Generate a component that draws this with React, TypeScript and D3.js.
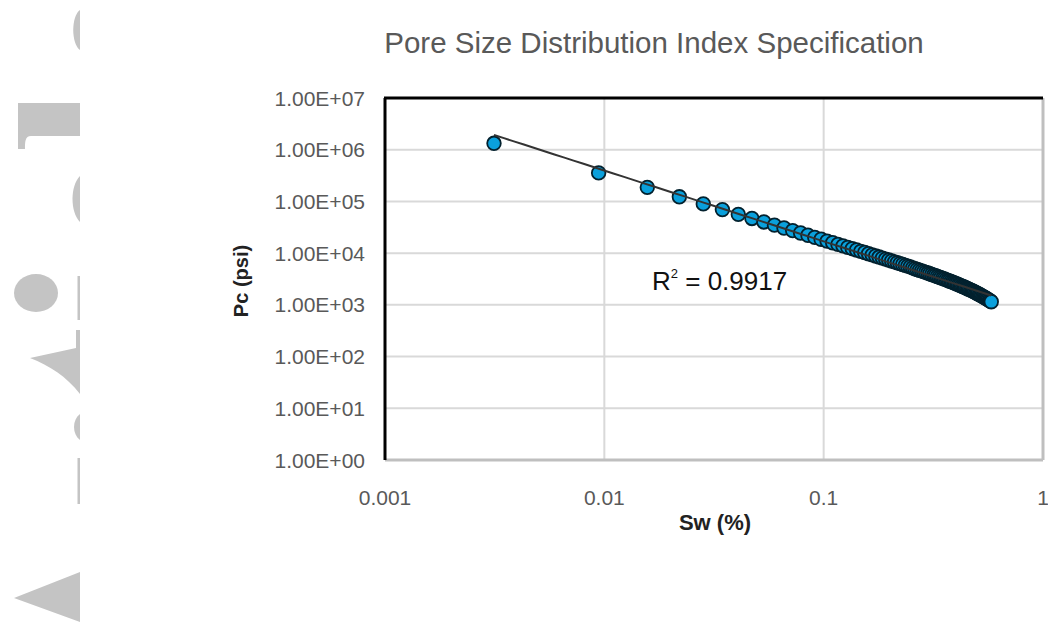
import React from "react";
import * as d3 from "d3";

const title = "Pore Size Distribution Index Specification";
const xTicks = [0.001, 0.01, 0.1, 1];
const xTickLabels = ["0.001", "0.01", "0.1", "1"];
const yTicks = [1, 10, 100, 1000, 1e4, 1e5, 1e6, 1e7];
const yTickLabels = ["1.00E+00", "1.00E+01", "1.00E+02", "1.00E+03", "1.00E+04", "1.00E+05", "1.00E+06", "1.00E+07"];
const xLabel = "Sw (%)";
const yLabel = "Pc (psi)";
const r2Label = "0.9917";

const sw = [
  0.00314, 0.00942, 0.0157, 0.02198, 0.02826, 0.03454, 0.04082, 0.0471, 0.05338, 0.05966,
  0.06594, 0.07222, 0.0785, 0.08478, 0.09106, 0.09734, 0.10362, 0.1099, 0.11618, 0.12246,
  0.12874, 0.13502, 0.1413, 0.14758, 0.15386, 0.16014, 0.16642, 0.1727, 0.17898, 0.18526,
  0.19154, 0.19782, 0.2041, 0.21038, 0.21666, 0.22294, 0.22922, 0.2355, 0.24178, 0.24806,
  0.25434, 0.26062, 0.2669, 0.27318, 0.27946, 0.28574, 0.29202, 0.2983, 0.30458, 0.31086,
  0.31714, 0.32342, 0.3297, 0.33598, 0.34226, 0.34854, 0.35482, 0.3611, 0.36738, 0.37366,
  0.37994, 0.38622, 0.3925, 0.39878, 0.40506, 0.41134, 0.41762, 0.4239, 0.43018, 0.43646,
  0.44274, 0.44902, 0.4553, 0.46158, 0.46786, 0.47414, 0.48042, 0.4867, 0.49298, 0.49926,
  0.50554, 0.51182, 0.5181, 0.52438, 0.53066, 0.53694, 0.54322, 0.5495, 0.55578, 0.56206,
  0.56834, 0.57462, 0.5809,
];
const pc = [
  1.33e6, 3.56e5, 1.87e5, 1.23e5, 8.95e4, 6.95e4, 5.63e4, 4.69e4, 4.01e4, 3.48e4,
  3.06e4, 2.73e4, 2.45e4, 2.22e4, 2.02e4, 1.86e4, 1.71e4, 1.59e4, 1.48e4, 1.38e4,
  1.29e4, 1.22e4, 1.15e4, 1.08e4, 1.03e4, 9.73e3, 9.24e3, 8.8e3, 8.4e3, 8.02e3,
  7.67e3, 7.35e3, 7.05e3, 6.77e3, 6.51e3, 6.26e3, 6.03e3, 5.81e3, 5.61e3, 5.42e3,
  5.18e3, 5.0e3, 4.84e3, 4.67e3, 4.53e3, 4.39e3, 4.24e3, 4.12e3, 3.99e3, 3.87e3,
  3.76e3, 3.65e3, 3.54e3, 3.44e3, 3.35e3, 3.25e3, 3.16e3, 3.07e3, 2.98e3, 2.9e3,
  2.82e3, 2.75e3, 2.67e3, 2.6e3, 2.53e3, 2.46e3, 2.4e3, 2.33e3, 2.27e3, 2.21e3,
  2.15e3, 2.09e3, 2.03e3, 1.99e3, 1.93e3, 1.88e3, 1.83e3, 1.78e3, 1.73e3, 1.68e3,
  1.64e3, 1.59e3, 1.55e3, 1.5e3, 1.46e3, 1.42e3, 1.38e3, 1.34e3, 1.3e3, 1.26e3,
  1.22e3, 1.19e3, 1.15e3,
];

const W = 1048;
const H = 630;
const plot = { left: 385, right: 1043, top: 98, bottom: 460 };
const GRAY = "#c4c4c4";

export default function App() {
  const x = d3.scaleLog().domain([0.001, 1]).range([plot.left, plot.right]);
  const y = d3.scaleLog().domain([1, 1e7]).range([plot.bottom, plot.top]);

  // power-law trendline (least squares in log-log space)
  const lx = sw.map((v) => Math.log10(v));
  const ly = pc.map((v) => Math.log10(v));
  const mx = d3.mean(lx) as number;
  const my = d3.mean(ly) as number;
  let sxy = 0, sxx = 0;
  lx.forEach((v, i) => { sxy += (v - mx) * (ly[i] - my); sxx += (v - mx) * (v - mx); });
  const slope = sxy / sxx;
  const icpt = my - slope * mx;
  const x0 = d3.min(sw) as number;
  const x1 = d3.max(sw) as number;
  const trend = d3.range(0, 51).map((i) => {
    const lv = Math.log10(x0) + (Math.log10(x1) - Math.log10(x0)) * (i / 50);
    return [x(Math.pow(10, lv)), y(Math.pow(10, icpt + slope * lv))] as [number, number];
  });
  const trendPath = d3.line()(trend) as string;

  const font = "'Liberation Sans', Arial, sans-serif";

  return (
    <svg width={W} height={H} style={{ position: "absolute", left: 0, top: 0, background: "#fff" }}>
      {/* decorative gray fragments at left edge */}
      <g fill={GRAY}>
        <path d="M80,10 C71,16 71,44 80,50 Z" />
        <path d="M18,103 L80,103 L80,136 L31,136 C25,136 25,142 25,149 L18,149 Z" />
        <path d="M80,176 C70,186 70,212 80,222 Z" />
        <ellipse cx={36} cy={293} rx={22} ry={19} />
        <rect x={77.5} y={276} width={2.5} height={44} />
        <path d="M30,358 L76,348 L76,330 L80,330 L80,394 C66,376 50,366 30,358 Z" />
        <path d="M80,414 C72,420 72,434 80,440 Z" />
        <rect x={77.5} y={458} width={2.5} height={46} />
        <path d="M14,598 L80,572 L80,622 Z" />
      </g>

      <text x={654} y={53} textAnchor="middle" fontFamily={font} fontSize={29.5} fill="#595959">
        {title}
      </text>

      {/* gridlines */}
      <g stroke="#d9d9d9" strokeWidth={2}>
        {yTicks.map((t) => (
          <line key={"gy" + t} x1={plot.left} x2={plot.right} y1={y(t)} y2={y(t)} />
        ))}
        {xTicks.map((t) => (
          <line key={"gx" + t} x1={x(t)} x2={x(t)} y1={plot.top} y2={plot.bottom} />
        ))}
      </g>
      {/* borders */}
      <line x1={plot.left} x2={plot.right} y1={plot.bottom} y2={plot.bottom} stroke="#bfbfbf" strokeWidth={3} />
      <line x1={plot.right} x2={plot.right} y1={plot.top} y2={plot.bottom} stroke="#bfbfbf" strokeWidth={3} />
      <line x1={plot.left - 1} x2={plot.right} y1={plot.top} y2={plot.top} stroke="#000" strokeWidth={3} />
      <line x1={plot.left} x2={plot.left} y1={plot.top} y2={plot.bottom} stroke="#000" strokeWidth={3} />

      {/* points */}
      <g fill="#0aa0dc" stroke="#03212e" strokeWidth={1.8}>
        {sw.map((v, i) => (
          <circle key={i} cx={x(v)} cy={y(pc[i])} r={6.8} />
        ))}
      </g>
      <path d={trendPath} fill="none" stroke="#333" strokeWidth={2} />

      {/* tick labels */}
      <g fontFamily={font} fontSize={21} fill="#595959">
        {yTicks.map((t, i) => (
          <text key={"ty" + t} x={365} y={y(t)} dy="0.36em" textAnchor="end">
            {yTickLabels[i]}
          </text>
        ))}
        {xTicks.map((t, i) => (
          <text key={"tx" + t} x={x(t)} y={505} textAnchor="middle">
            {xTickLabels[i]}
          </text>
        ))}
      </g>

      <text x={715} y={530} textAnchor="middle" fontFamily={font} fontSize={22} fontWeight="bold" fill="#222">
        {xLabel}
      </text>
      <text
        transform={`translate(248,281) rotate(-90)`}
        textAnchor="middle"
        fontFamily={font}
        fontSize={20}
        fontWeight="bold"
        fill="#222"
      >
        {yLabel}
      </text>

      <text x={652} y={290} fontFamily={font} fontSize={26} fill="#111">
        R<tspan fontSize={13} dy={-12}>2</tspan>
        <tspan dy={12}>{" = " + r2Label}</tspan>
      </text>
    </svg>
  );
}
